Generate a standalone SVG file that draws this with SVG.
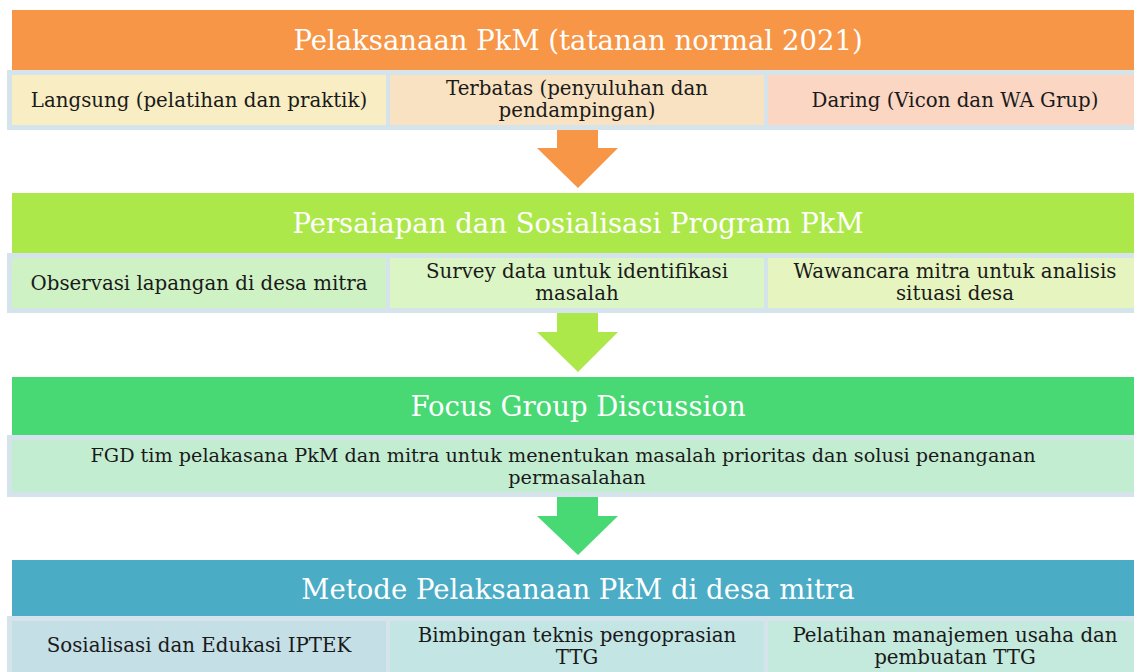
<svg xmlns="http://www.w3.org/2000/svg" width="1134" height="672" viewBox="0 0 1134 672">
<style>
.hd{font-family:"DejaVu Serif","Liberation Serif",serif;font-size:27.5px;fill:#ffffff;text-anchor:middle}
.tx{font-family:"DejaVu Serif","Liberation Serif",serif;font-size:19.8px;fill:#1a1a1a;text-anchor:middle}
.box{fill:#D5E3EA}
</style>
<rect width="1134" height="672" fill="#ffffff"/>
<g id="connectors">
<polygon points="557,130 598,130 598,148 618,148 578,188 537,148 557,148" fill="#F79646"/>
<polygon points="557,313 598,313 598,332 618,332 578,372 537,332 557,332" fill="#ADE84A"/>
<polygon points="557,497 598,497 598,516 618,516 578,555 537,516 557,516" fill="#48D874"/>
</g>
<g id="stage1">
<rect x="12" y="10" width="1130" height="60" fill="#F79646"/>
<text class="hd" x="578" y="50">Pelaksanaan PkM (tatanan normal 2021)</text>
<rect class="box" x="7" y="70" width="1135" height="60"/>
<rect x="12" y="75" width="374" height="50" fill="#F8EDC3"/>
<rect x="390" y="75" width="374" height="50" fill="#F9E2C1"/>
<rect x="768" y="75" width="374" height="50" fill="#FAD6C3"/>
<text class="tx" x="199" y="107">Langsung (pelatihan dan praktik)</text>
<text class="tx" x="577" y="95">Terbatas (penyuluhan dan</text>
<text class="tx" x="577" y="117">pendampingan)</text>
<text class="tx" x="955" y="107">Daring (Vicon dan WA Grup)</text>
</g>
<g id="stage2">
<rect x="12" y="193" width="1130" height="60" fill="#ADE84A"/>
<text class="hd" x="578" y="233">Persaiapan dan Sosialisasi Program PkM</text>
<rect class="box" x="7" y="253" width="1135" height="60"/>
<rect x="12" y="258" width="374" height="50" fill="#CEF2C4"/>
<rect x="390" y="258" width="374" height="50" fill="#DCF5C4"/>
<rect x="768" y="258" width="374" height="50" fill="#E6F5C0"/>
<text class="tx" x="199" y="290">Observasi lapangan di desa mitra</text>
<text class="tx" x="577" y="278">Survey data untuk identifikasi</text>
<text class="tx" x="577" y="300">masalah</text>
<text class="tx" x="955" y="278">Wawancara mitra untuk analisis</text>
<text class="tx" x="955" y="300">situasi desa</text>
</g>
<g id="stage3">
<rect x="12" y="377" width="1130" height="58" fill="#48D874"/>
<text class="hd" x="578" y="416">Focus Group Discussion</text>
<rect class="box" x="7" y="435" width="1135" height="62"/>
<rect x="12" y="440" width="1130" height="52" fill="#C3EDD1"/>
<text class="tx" x="563" y="462" style="font-size:19.2px">FGD tim pelakasana PkM dan mitra untuk menentukan masalah prioritas dan solusi penanganan</text>
<text class="tx" x="577" y="484" style="font-size:19.2px">permasalahan</text>
</g>
<g id="stage4">
<rect x="12" y="560" width="1130" height="56" fill="#4BACC6"/>
<text class="hd" x="578" y="599">Metode Pelaksanaan PkM di desa mitra</text>
<rect class="box" x="7" y="616" width="1135" height="60"/>
<rect x="12" y="621" width="374" height="55" fill="#C4DFE6"/>
<rect x="390" y="621" width="374" height="55" fill="#C3E6E5"/>
<rect x="768" y="621" width="374" height="55" fill="#C4E9DD"/>
<text class="tx" x="199" y="652">Sosialisasi dan Edukasi IPTEK</text>
<text class="tx" x="577" y="642">Bimbingan teknis pengoprasian</text>
<text class="tx" x="577" y="664">TTG</text>
<text class="tx" x="955" y="642">Pelatihan manajemen usaha dan</text>
<text class="tx" x="955" y="664">pembuatan TTG</text>
</g>
</svg>
